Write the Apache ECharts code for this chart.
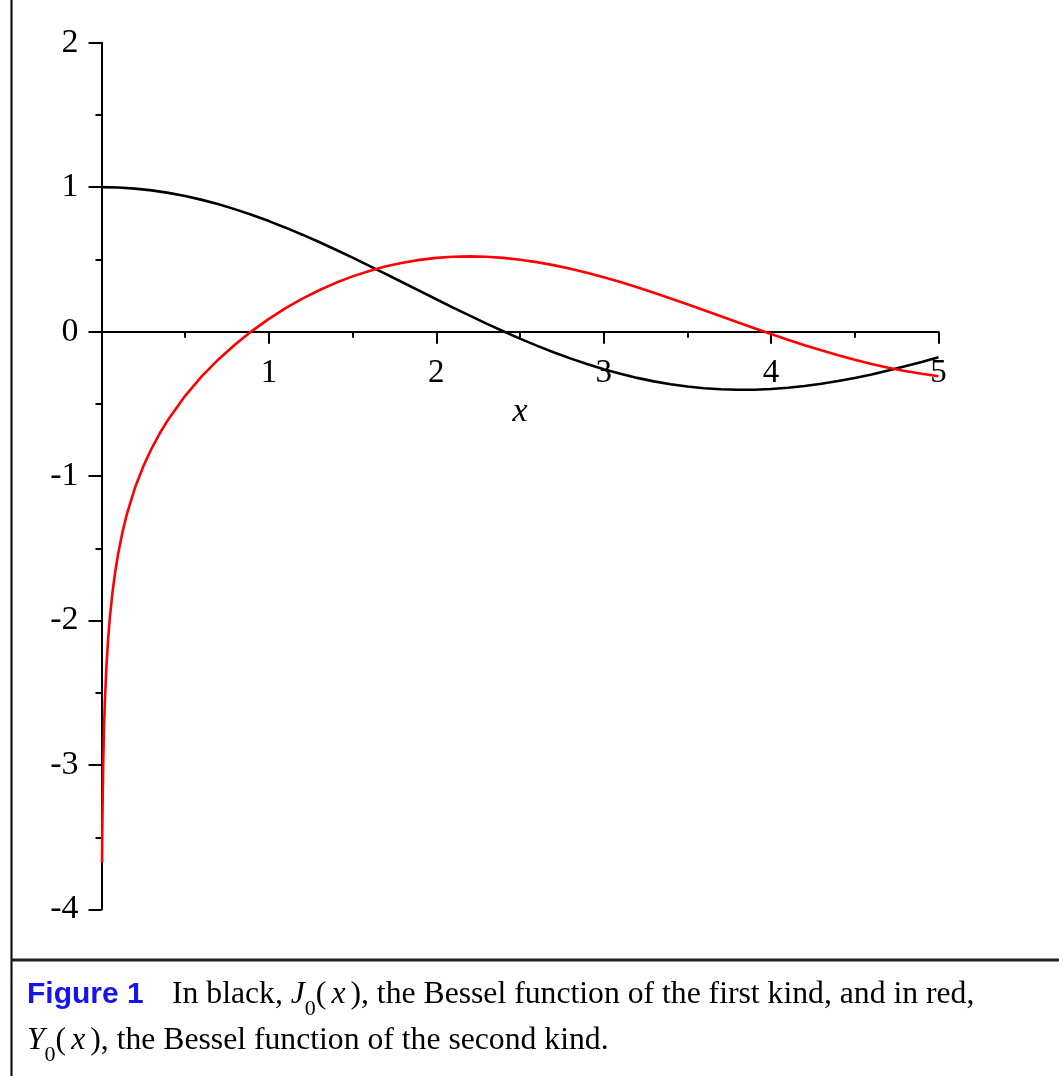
<!DOCTYPE html>
<html>
<head>
<meta charset="utf-8">
<script src="https://cdn.jsdelivr.net/npm/echarts@6/dist/echarts.min.js"></script>
<style>
html,body{margin:0;padding:0;background:#fff;}
#c{width:1059px;height:1076px;}
</style>
</head>
<body>
<div id="c"></div>
<script>
// x samples for J0(x), black curve
var xJ = [0,0.1,0.2,0.3,0.4,0.5,0.6,0.7,0.8,0.9,1.0,1.1,1.2,1.3,1.4,1.5,1.6,1.7,1.8,1.9,2.0,2.1,2.2,2.3,2.4,2.5,2.6,2.7,2.8,2.9,3.0,3.1,3.2,3.3,3.4,3.5,3.6,3.7,3.8,3.9,4.0,4.1,4.2,4.3,4.4,4.5,4.6,4.7,4.8,4.9,5.0];
var J0 = [1.0,0.9975,0.9900,0.9776,0.9604,0.9385,0.9120,0.8812,0.8463,0.8075,0.7652,0.7196,0.6711,0.6201,0.5669,0.5118,0.4554,0.3980,0.3400,0.2818,0.2239,0.1666,0.1104,0.0555,0.0025,-0.0484,-0.0968,-0.1424,-0.1850,-0.2243,-0.2601,-0.2921,-0.3202,-0.3443,-0.3643,-0.3801,-0.3918,-0.3992,-0.4026,-0.4018,-0.3971,-0.3887,-0.3766,-0.3610,-0.3423,-0.3205,-0.2961,-0.2693,-0.2404,-0.2097,-0.1776];
// x samples for Y0(x), red curve
var xY = [0.0035,0.005,0.0075,0.01,0.015,0.02,0.03,0.04,0.05,0.065,0.08,0.1,0.125,0.15,0.2,0.25,0.3,0.35,0.4,0.5,0.6,0.7,0.8,0.9,1.0,1.1,1.2,1.3,1.4,1.5,1.6,1.7,1.8,1.9,2.0,2.1,2.2,2.3,2.4,2.5,2.6,2.7,2.8,2.9,3.0,3.1,3.2,3.3,3.4,3.5,3.6,3.7,3.8,3.9,4.0,4.1,4.2,4.3,4.4,4.5,4.6,4.7,4.8,4.9,5.0];
var Y0 = [-3.674,-3.447,-3.189,-3.006,-2.747,-2.564,-2.306,-2.123,-1.979,-1.811,-1.678,-1.5342,-1.3896,-1.2707,-1.0811,-0.9316,-0.8073,-0.7003,-0.6060,-0.4445,-0.3085,-0.1907,-0.0868,0.0056,0.0883,0.1622,0.2281,0.2865,0.3379,0.3824,0.4204,0.4520,0.4774,0.4968,0.5104,0.5183,0.5208,0.5181,0.5104,0.4981,0.4813,0.4605,0.4359,0.4079,0.3769,0.3431,0.3071,0.2691,0.2296,0.1890,0.1477,0.1061,0.0645,0.0234,-0.0169,-0.0561,-0.0938,-0.1296,-0.1633,-0.1947,-0.2235,-0.2494,-0.2723,-0.2921,-0.3085];
// axis ranges / ticks
var xRange = [0, 5];
var yRange = [-4, 2];
var axisName = 'x';
var captionLabel = 'Figure 1';
var caption1 = '{t|In black, }{it|J}{sub|0}{t|(}{itx|x}{t|), the Bessel function of the first kind, and in red,}';
var caption2 = '{it|Y}{sub|0}{t|(}{itx|x}{t|), the Bessel function of the second kind.}';

function pairs(xs, ys){ return xs.map(function(x,i){ return [x, ys[i]]; }); }

var serif = 'Liberation Serif';
var rich = {
  t:{fontFamily:serif,fontSize:31.7,color:'#000',lineHeight:32},
  it:{fontFamily:serif,fontSize:31.7,fontStyle:'italic',color:'#000',lineHeight:32},
  itx:{fontFamily:serif,fontSize:31.7,fontStyle:'italic',color:'#000',lineHeight:32,padding:[0,5,0,5]},
  sub:{fontFamily:serif,fontSize:22,color:'#000',lineHeight:22,padding:[29,0,0,0]}
};

// layout of the plot box (pixels)
var gTop = 42.7, gBottom = 166.5, H = 1076;
var plotH = H - gTop - gBottom;
var zeroOffset = -plotH * (0 - yRange[0]) / (yRange[1] - yRange[0]);

var chart = echarts.init(document.getElementById('c'), null, {renderer:'canvas'});
chart.setOption({
  animation:false,
  backgroundColor:'#fff',
  grid:{left:101.5,top:gTop,right:120.5,bottom:gBottom,containLabel:false},
  xAxis:{
    type:'value',min:xRange[0],max:xRange[1],interval:1,
    position:'bottom',offset:zeroOffset,
    name:axisName,nameLocation:'middle',nameGap:80,
    nameTextStyle:{fontFamily:serif,fontSize:34,fontStyle:'italic',color:'#000',verticalAlign:'middle'},
    axisLine:{onZero:false,lineStyle:{color:'#000',width:2}},
    axisTick:{show:true,length:12,lineStyle:{color:'#000',width:2}},
    minorTick:{show:true,splitNumber:2,length:6,lineStyle:{color:'#000',width:2}},
    splitLine:{show:false},
    axisLabel:{margin:25,fontFamily:serif,fontSize:33,color:'#000',
      formatter:function(v){return v===0?'':String(v);}}
  },
  yAxis:{
    type:'value',min:yRange[0],max:yRange[1],interval:1,
    axisLine:{show:true,onZero:false,lineStyle:{color:'#000',width:2}},
    axisTick:{show:true,length:13,lineStyle:{color:'#000',width:2}},
    minorTick:{show:true,splitNumber:2,length:6,lineStyle:{color:'#000',width:2}},
    splitLine:{show:false},
    axisLabel:{margin:23,fontFamily:serif,fontSize:34,color:'#000',padding:[5,0,0,0],
      formatter:function(v){return v<0?'-'+Math.abs(v):String(v);}}
  },
  series:[
    {type:'line',data:pairs(xJ,J0),showSymbol:false,smooth:false,clip:true,
     lineStyle:{color:'#000',width:2.6},z:3},
    {type:'line',data:pairs(xY,Y0),showSymbol:false,smooth:false,clip:true,
     lineStyle:{color:'#ff0000',width:2.6},z:4}
  ],
  graphic:[
    {type:'line',shape:{x1:11.5,y1:0,x2:11.5,y2:1076},style:{stroke:'#000',lineWidth:2},silent:true},
    {type:'line',shape:{x1:11,y1:960,x2:1059,y2:960},style:{stroke:'#222',lineWidth:3},silent:true},
    {type:'text',x:27,y:995,style:{text:captionLabel,fontFamily:'Liberation Sans',fontWeight:'bold',fontSize:30,fill:'#1414f0',verticalAlign:'middle'},silent:true},
    {type:'text',x:172,y:995,style:{text:caption1,rich:rich,verticalAlign:'middle'},silent:true},
    {type:'text',x:27,y:1041,style:{text:caption2,rich:rich,verticalAlign:'middle'},silent:true}
  ]
});
</script>
</body>
</html>
